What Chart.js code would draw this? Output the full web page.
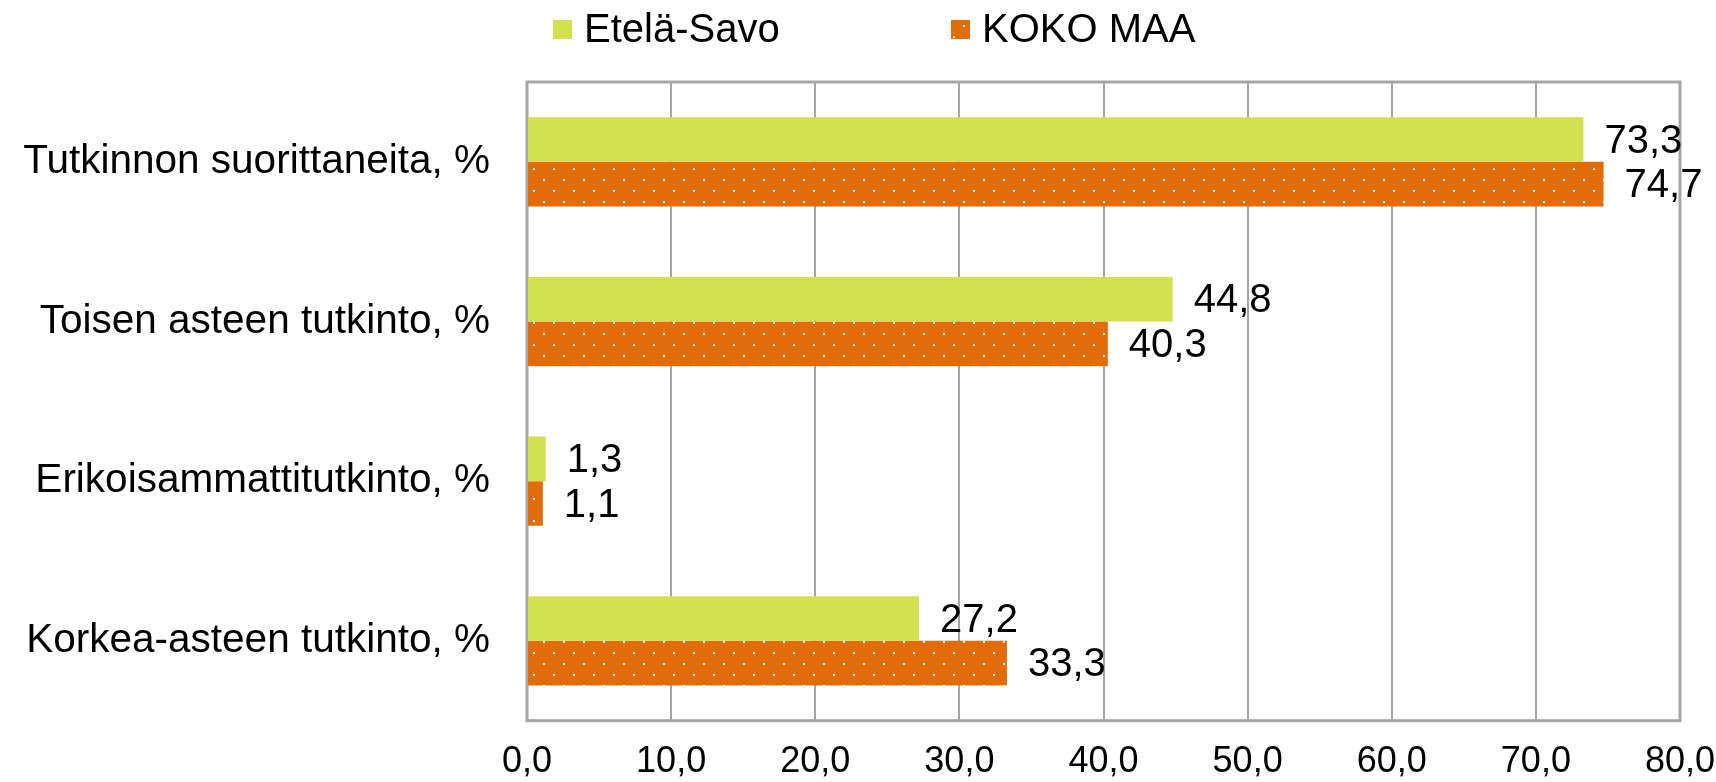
<!DOCTYPE html>
<html>
<head>
<meta charset="utf-8">
<script src="https://cdn.jsdelivr.net/npm/chart.js@4"></script>
<style>
  html, body { margin: 0; padding: 0; background: #fff; }
  #wrap { width: 1716px; height: 782px; }
</style>
</head>
<body>
<div id="wrap"><canvas id="kaavio"></canvas></div>
<script>
const luokat = ['Tutkinnon suorittaneita, %', 'Toisen asteen tutkinto, %', 'Erikoisammattitutkinto, %', 'Korkea-asteen tutkinto, %'];
const etelaSavo = [73.3, 44.8, 1.3, 27.2];
const kokoMaa = [74.7, 40.3, 1.1, 33.3];
const sarjat = ['Etelä-Savo', 'KOKO MAA'];
const xMin = 0, xMax = 80, xVali = 10;

const vihrea = '#d4e04f';
const oranssi = '#e36c0a';
const fontti = '"Liberation Sans", Arial, sans-serif';

// pisteet oranssiin palkkiin
function pistekuvio() {
  const c = document.createElement('canvas');
  c.width = 20; c.height = 22;
  const g = c.getContext('2d');
  g.fillStyle = oranssi;
  g.fillRect(0, 0, 20, 22);
  g.fillStyle = '#ffffff';
  g.fillRect(3, 3, 2, 2);
  g.fillRect(13, 14, 2, 2);
  return g.createPattern(c, 'repeat');
}
const kuvio = pistekuvio();

function pilkku(v) { return v.toFixed(1).replace('.', ','); }

// arvot palkkien perään
const arvot = {
  id: 'arvot',
  afterDatasetsDraw(chart) {
    const ctx = chart.ctx;
    ctx.save();
    ctx.font = '40px ' + fontti;
    ctx.fillStyle = '#000';
    ctx.textBaseline = 'middle';
    ctx.textAlign = 'left';
    chart.data.datasets.forEach((ds, i) => {
      chart.getDatasetMeta(i).data.forEach((bar, j) => {
        ctx.fillText(pilkku(ds.data[j]), bar.x + 21, bar.y + 2);
      });
    });
    ctx.restore();
  }
};

// harmaa kehys kaavioalueen ympärille
const kehys = {
  id: 'kehys',
  beforeDatasetsDraw(chart) {
    const a = chart.chartArea;
    const ctx = chart.ctx;
    ctx.save();
    ctx.strokeStyle = '#a6a6a6';
    ctx.lineWidth = 3;
    ctx.strokeRect(a.left, a.top, a.right - a.left, a.bottom - a.top);
    ctx.restore();
  }
};

// selite ylälaitaan
const selite = {
  id: 'selite',
  afterDraw(chart) {
    const ctx = chart.ctx;
    const paikat = [553, 951];
    const varit = [vihrea, kuvio];
    ctx.save();
    ctx.font = '40px ' + fontti;
    ctx.textBaseline = 'middle';
    ctx.textAlign = 'left';
    sarjat.forEach((nimi, i) => {
      ctx.fillStyle = varit[i];
      ctx.fillRect(paikat[i], 20, 19, 19);
      ctx.fillStyle = '#000';
      ctx.fillText(nimi, paikat[i] + 31, 31);
    });
    ctx.restore();
  }
};

new Chart(document.getElementById('kaavio'), {
  type: 'bar',
  data: {
    labels: luokat,
    datasets: [
      { label: sarjat[0], data: etelaSavo, backgroundColor: vihrea, categoryPercentage: 0.559, barPercentage: 1 },
      { label: sarjat[1], data: kokoMaa, backgroundColor: kuvio, categoryPercentage: 0.559, barPercentage: 1 }
    ]
  },
  options: {
    indexAxis: 'y',
    responsive: true,
    maintainAspectRatio: false,
    animation: false,
    layout: { padding: { top: 82, right: 0, bottom: 0, left: 0 } },
    plugins: {
      tooltip: { enabled: false },
      legend: { display: false }
    },
    scales: {
      x: {
        min: xMin,
        max: xMax,
        afterFit: s => { s.height = 56; s.paddingRight = 36; s.paddingLeft = 0; },
        ticks: {
          stepSize: xVali,
          color: '#000',
          padding: 23,
          font: { family: fontti, size: 36, lineHeight: 1 },
          callback: v => pilkku(v)
        },
        grid: { color: '#a6a6a6', lineWidth: 2, drawTicks: false },
        border: { display: false }
      },
      y: {
        afterFit: s => { s.width = 527; },
        ticks: {
          color: '#000',
          padding: 37,
          font: { family: fontti, size: 40.5 }
        },
        grid: { display: false, drawTicks: false },
        border: { display: false }
      }
    }
  },
  plugins: [kehys, arvot, selite]
});
</script>
</body>
</html>
